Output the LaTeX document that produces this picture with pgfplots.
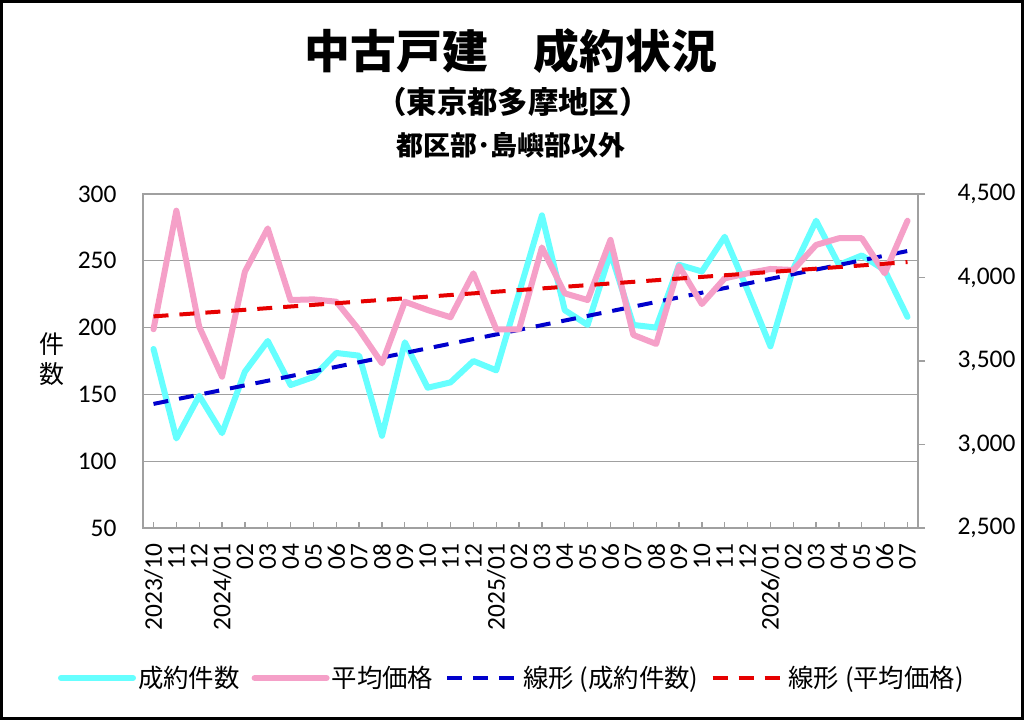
\documentclass[border=0pt]{standalone}
\usepackage{fontspec}
\setmainfont{Carlito}
\newfontfamily\cjk{Noto Sans CJK JP}
\usepackage{pgfplots}
\usepackage{pgfplotstable}
\pgfplotsset{compat=1.18}
\definecolor{cy}{RGB}{102,255,255}
\definecolor{pk}{RGB}{245,160,200}
\definecolor{tb}{RGB}{0,0,204}
\definecolor{tr}{RGB}{230,0,0}
\definecolor{gr}{RGB}{160,160,160}

\pgfplotstableread{
x cnt price
0 184 3690
1 117 4400
2 149 3705
3 121 3406
4 167 4035
5 190 4294
6 157 3865
7 163 3869
8 181 3855
9 179 3686
10 119 3486
11 189 3855
12 155 3805
13 159 3762
14 175 4025
15 168 3690
16 226 3690
17 284 4180
18 213 3905
19 202 3865
20 256 4225
21 202 3656
22 200 3602
23 247 4069
24 242 3841
25 268 3995
26 228 4025
27 186 4051
28 244 4045
29 280 4195
30 247 4235
31 254 4235
32 243 4025
33 208 4340
}\data

\begin{document}
\begin{tikzpicture}[x=1bp,y=1bp]
\useasboundingbox (0,0) rectangle (1024,720);
\draw[line width=3bp] (1.5,1.5) rectangle (1022.5,718.5);
\node[font=\cjk\bfseries\fontsize{46}{52}\selectfont] at (511,669) {中古戸建　成約状況};
\node[font=\cjk\bfseries\fontsize{30.5}{34}\selectfont] at (513,618) {（東京都多摩地区）};
\node[font=\cjk\bfseries\fontsize{27}{32}\selectfont] at (511,575) {都区部･島嶼部以外};
\node[font=\cjk\fontsize{25}{30}\selectfont, align=center] at (52,361) {件\\数};

\pgfplotsset{
  common/.style={
    scale only axis, width=775bp, height=334bp,
    at={(143bp,192bp)}, anchor=south west,
    xmin=-0.46, xmax=33.46,
    /pgf/number format/assume math mode=true,
    tick label style={font=\fontsize{25.5}{28}\selectfont},
    axis line style={gr, line width=1.3bp},
    tick style={gr, line width=1.3bp},
  }
}

\begin{axis}[common,
  ymin=50, ymax=300, ytick={50,100,...,300},
  xtick={0,...,33},
  xticklabels={2023/10,11,12,2024/01,02,03,04,05,06,07,08,09,10,11,12,2025/01,02,03,04,05,06,07,08,09,10,11,12,2026/01,02,03,04,05,06,07},
  x tick label style={rotate=90, anchor=east, xshift=-12bp},
  xtick pos=bottom, xtick align=inside,
  ytick pos=left, y tick style={draw=none},
  y tick label style={xshift=-23bp},
  ymajorgrids, grid style={gr, line width=1.3bp},
  major tick length=6bp,
]
\addplot[cy, line width=6bp, line join=round, line cap=round] table[x=x,y=cnt] {\data};
\addplot[tb, line width=4bp, dash pattern=on 15bp off 11bp] table[x=x, y={create col/linear regression={y=cnt}}] {\data};
\end{axis}

\begin{axis}[common,
  ymin=2500, ymax=4500, ytick={2500,3000,...,4500},
  axis x line=none, axis y line*=right,
  ytick pos=right, ytick align=outside, major tick length=7bp,
  /pgf/number format/1000 sep={,},
  y tick label style={xshift=29bp},
  legend columns=4,
  legend style={draw=none, fill=none, at={(0.476,-0.449)}, anchor=center,
    font=\cjk\fontsize{25.5}{28}\selectfont,
    /tikz/every even column/.append style={column sep=10bp}},
  legend image code/.code={\draw[#1] (0bp,0bp) -- (72bp,0bp);},
]
\addlegendimage{cy, line width=6bp, line cap=round}
\addlegendentry{成約件数}
\addplot[pk, line width=6bp, line join=round, line cap=round] table[x=x,y=price] {\data};
\addlegendentry{平均価格}
\addlegendimage{tb, line width=4bp, dash pattern=on 15bp off 11bp}
\addlegendentry{線形 (成約件数)}
\addplot[tr, line width=4bp, dash pattern=on 15bp off 11bp] table[x=x, y={create col/linear regression={y=price}}] {\data};
\addlegendentry{線形 (平均価格)}
\end{axis}
\end{tikzpicture}
\end{document}
